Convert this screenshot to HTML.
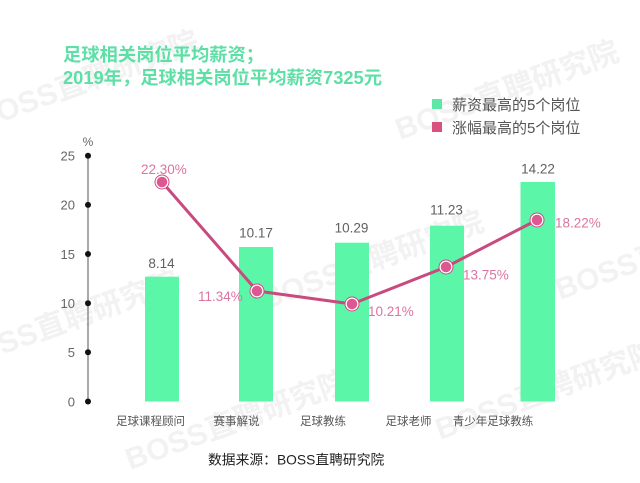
<!DOCTYPE html>
<html><head><meta charset="utf-8"><style>
html,body{margin:0;padding:0;background:#fff;}
svg{display:block;}
text{font-family:"Liberation Sans","Noto Sans CJK SC",sans-serif;}
</style></head><body>
<svg width="640" height="483" viewBox="0 0 640 483" xmlns="http://www.w3.org/2000/svg">
<rect width="640" height="483" fill="#fff"/>
<!-- watermarks -->
<g fill="#f2f2f2" font-weight="bold" font-size="30">
<text transform="translate(-20,130) rotate(-20)">BOSS直聘研究院</text>
<text transform="translate(265,310) rotate(-20)">BOSS直聘研究院</text>
<text transform="translate(-40,370) rotate(-20)">BOSS直聘研究院</text>
<text transform="translate(400,140) rotate(-20)">BOSS直聘研究院</text>
<text transform="translate(560,300) rotate(-20)">BOSS直聘</text>
<text transform="translate(130,470) rotate(-20)">BOSS直聘研究院</text>
<text transform="translate(440,440) rotate(-20)">BOSS直聘研究院</text>
</g>
<!-- title -->
<g fill="#5ddfa6" font-weight="bold" font-size="18.3">
<text x="63" y="61">足球相关岗位平均薪资；</text>
<text x="63" y="84">2019年，足球相关岗位平均薪资7325元</text>
</g>
<!-- legend -->
<rect x="432" y="99" width="10" height="10" fill="#5de8a6"/>
<rect x="432" y="122" width="10" height="10" fill="#d9517f"/>
<g fill="#555" font-size="15">
<text x="452" y="110">薪资最高的5个岗位</text>
<text x="452" y="133">涨幅最高的5个岗位</text>
</g>
<!-- axis -->
<line x1="88" y1="155.7" x2="88" y2="401.5" stroke="#555" stroke-width="1"/>
<g fill="#111">
<circle cx="88" cy="155.7" r="3"/>
<circle cx="88" cy="204.9" r="3"/>
<circle cx="88" cy="254" r="3"/>
<circle cx="88" cy="303.2" r="3"/>
<circle cx="88" cy="352.3" r="3"/>
<circle cx="88" cy="401.5" r="3"/>
</g>
<g fill="#666" font-size="13" text-anchor="end">
<text x="75" y="160.5">25</text>
<text x="75" y="209.7">20</text>
<text x="75" y="258.8">15</text>
<text x="75" y="308">10</text>
<text x="75" y="357.1">5</text>
<text x="75" y="406.3">0</text>
</g>
<text x="88" y="146" fill="#666" font-size="12" text-anchor="middle">%</text>
<!-- bars -->
<g fill="#5cf6a9">
<rect x="145" y="276.7" width="34" height="124.8"/>
<rect x="239" y="247" width="34" height="154.5"/>
<rect x="335" y="242.7" width="34" height="158.8"/>
<rect x="430" y="225.7" width="34" height="175.8"/>
<rect x="520.5" y="182" width="34.5" height="219.5"/>
</g>
<!-- bar labels -->
<g fill="#606060" font-size="13.5" text-anchor="middle">
<text x="161.5" y="268">8.14</text>
<text x="256" y="237.5">10.17</text>
<text x="351.5" y="232.5">10.29</text>
<text x="446.5" y="214.5">11.23</text>
<text x="538" y="173.5">14.22</text>
</g>
<!-- line -->
<polyline points="162,182 257,291 352,304 446,267 537,220" fill="none" stroke="#c94a7e" stroke-width="3" stroke-linejoin="round"/>
<g fill="#dd5890" stroke="#fff" stroke-width="1.5">
<circle cx="162" cy="182" r="6"/>
<circle cx="257" cy="291" r="6"/>
<circle cx="352" cy="304" r="6"/>
<circle cx="446" cy="267" r="6"/>
<circle cx="537" cy="220" r="6"/>
</g>
<g fill="none" stroke="#d04a82" stroke-width="1">
<circle cx="162" cy="182" r="7"/>
<circle cx="257" cy="291" r="7"/>
<circle cx="352" cy="304" r="7"/>
<circle cx="446" cy="267" r="7"/>
<circle cx="537" cy="220" r="7"/>
</g>
<!-- percent labels -->
<g fill="#dc74a0" font-size="13.5">
<text x="141" y="174">22.30%</text>
<text x="198" y="301">11.34%</text>
<text x="368" y="316">10.21%</text>
<text x="463" y="279.5">13.75%</text>
<text x="555" y="227.5">18.22%</text>
</g>
<!-- category labels -->
<g fill="#555" font-size="11.5" text-anchor="middle">
<text x="150.5" y="425">足球课程顾问</text>
<text x="236.5" y="425">赛事解说</text>
<text x="323" y="425">足球教练</text>
<text x="408.5" y="425">足球老师</text>
<text x="493" y="425">青少年足球教练</text>
</g>
<!-- source -->
<text x="208" y="464.5" fill="#222" font-size="13.8">数据来源：BOSS直聘研究院</text>
</svg>
</body></html>
